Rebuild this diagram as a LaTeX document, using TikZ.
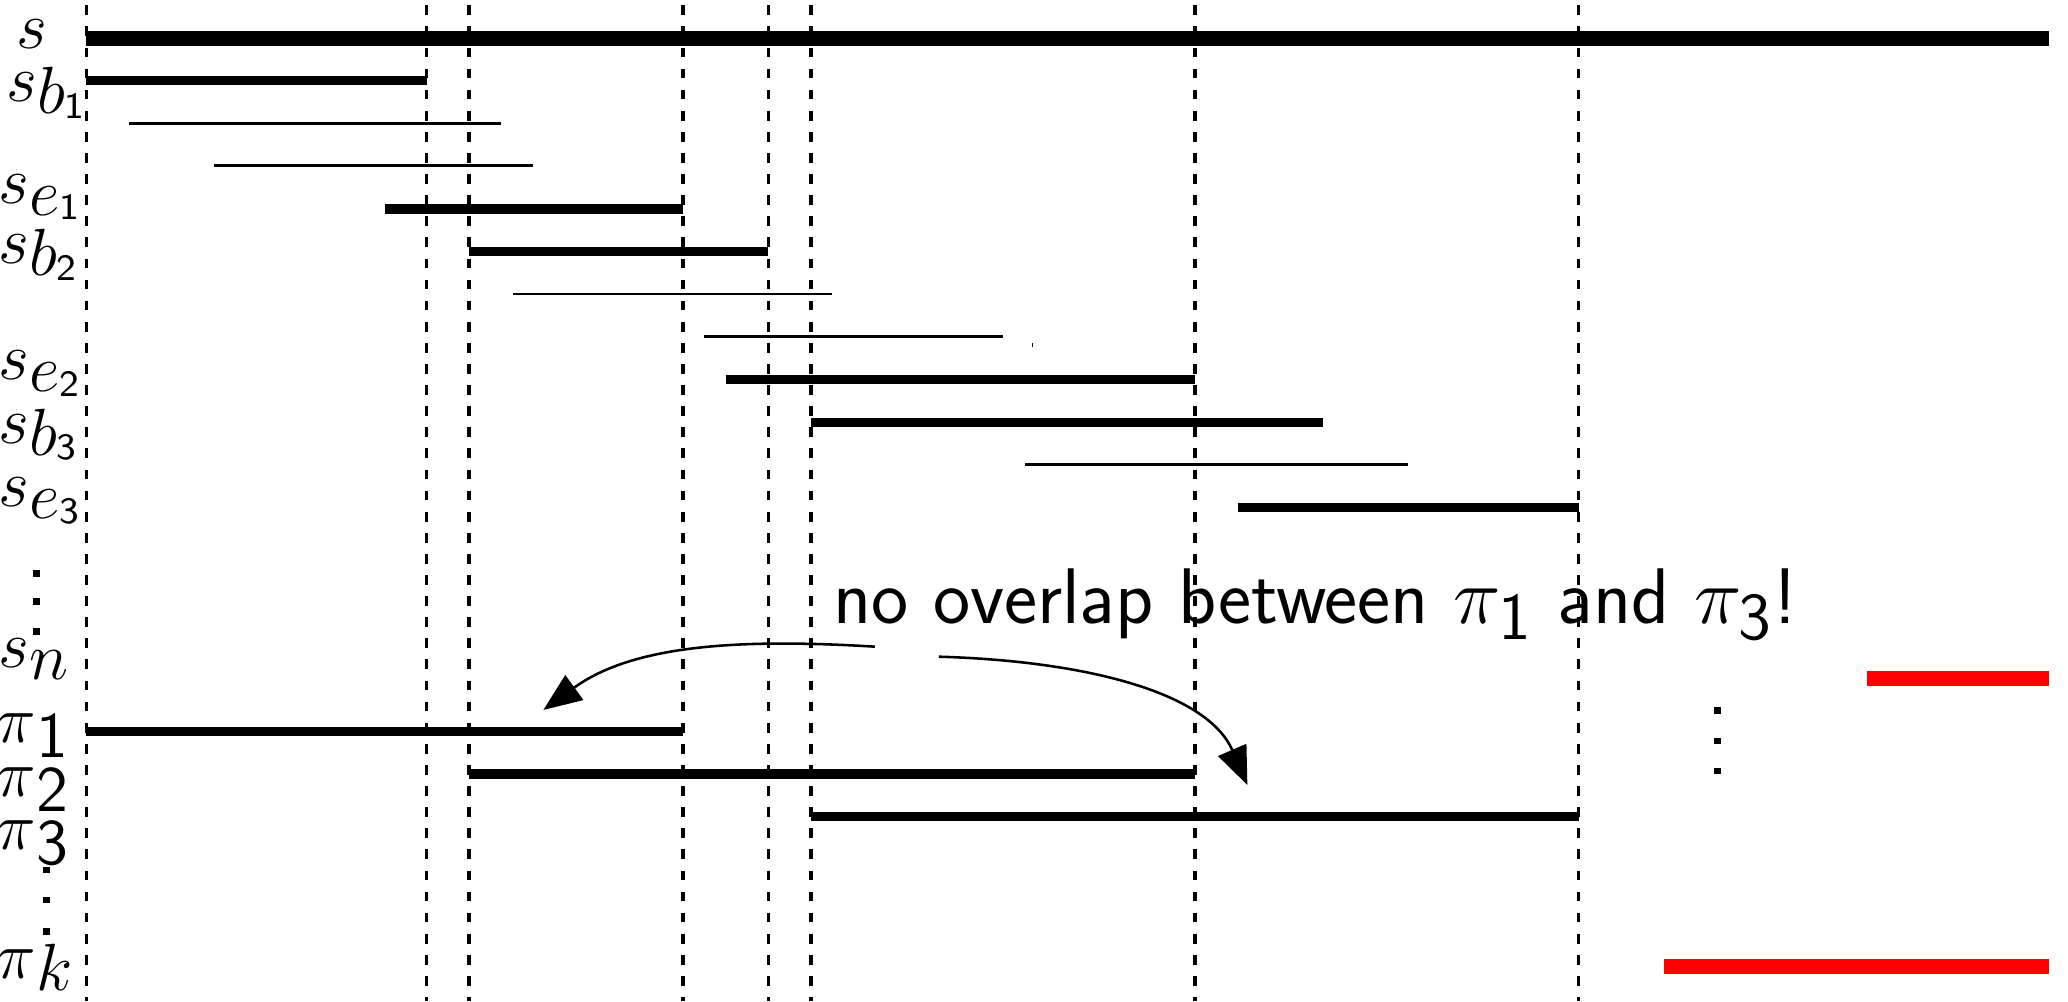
\documentclass[tikz,border=0pt]{standalone}
\usetikzlibrary{arrows.meta}
\DeclareMathSizes{17}{17}{15.6}{9}
\newcommand{\sfd}[1]{\mathsf{#1}}
% label with letter subscript and digit sub-subscript
\newcommand{\LabB}[3]{$#1$\raisebox{-2.6pt}{\fontsize{13.5}{14}\selectfont$#2$}\raisebox{-3.6pt}{\fontsize{8}{9}\selectfont\sffamily #3}}
% label with a single letter subscript
\newcommand{\LabL}[2]{$#1$\raisebox{-2.6pt}{\fontsize{13.5}{14}\selectfont$#2$}}
% label with a single digit subscript
\newcommand{\LabD}[2]{$#1$\raisebox{-3.2pt}{\fontsize{14}{15}\selectfont\sffamily #2}}
\tikzset{
  guide/.style={line width=0.75pt, dash pattern=on 2.1pt off 2.45pt},
  thickbar/.style={line width=3.25pt},
  midbar/.style={line width=2.05pt},
  thinbar/.style={line width=0.57pt},
  redbar/.style={line width=3.25pt, draw=red},
  lbl/.style={anchor=base west, inner sep=0pt, font=\fontsize{15}{18}\selectfont},
  note/.style={anchor=base west, inner sep=0pt, font=\fontsize{17}{20}\selectfont\sffamily},
  arr/.style={line width=0.55pt, -{Triangle[length=0.29cm,width=0.23cm]}},
  dotmark/.style={fill=black}
}
\begin{document}
\begin{tikzpicture}[x=0.01cm,y=-0.01cm]
\useasboundingbox (0,0) rectangle (1568,759);
% dashed guides
\foreach \xx in {65.5,323.5,355.7,517.8,582.6,615,906,1197}{
  \draw[guide] (\xx,4) -- (\xx,759);
}
% bars
\draw[thickbar] (65.5,29) -- (1553.5,29);
\draw[midbar] (65.5,61.2) -- (323.5,61.2);
\draw[thinbar] (97.8,93.8) -- (379.5,93.8);
\draw[thinbar] (161.9,125.6) -- (404.2,125.6);
\draw[midbar] (291.6,158.3) -- (517.8,158.3);
\draw[midbar] (355.7,190.8) -- (582.6,190.8);
\draw[thinbar] (388.8,222.9) -- (630.5,222.9);
\draw[thinbar] (533.8,255.3) -- (760.2,255.3);
\draw[line width=0.3pt] (783,260.2) -- (783,263);
\draw[midbar] (550.5,287.6) -- (906,287.6);
\draw[midbar] (615,320.2) -- (1003,320.2);
\draw[thinbar] (777.2,352) -- (1067.5,352);
\draw[midbar] (938.7,384.7) -- (1197,384.7);
\draw[midbar] (65.5,554.5) -- (517.8,554.5);
\draw[midbar] (355.7,586.9) -- (906,586.9);
\draw[midbar] (615,619.2) -- (1197,619.2);
\draw[redbar] (1415.6,514.3) -- (1553.6,514.3);
\draw[redbar] (1261.8,732.6) -- (1553.6,732.6);
% labels
\node[lbl] (ls)   at (12,37)   {$s$};
\node[lbl] (lsb1) at (4,77)    {\LabB{s}{b}{1}};
\node[lbl] (lse1) at (-2,154)  {\LabB{s}{e}{1}};
\node[lbl] (lsb2) at (-2,200)  {\LabB{s}{b}{2}};
\node[lbl] (lse2) at (-2,288)  {\LabB{s}{e}{2}};
\node[lbl] (lsb3) at (-2,336)  {\LabB{s}{b}{3}};
\node[lbl] (lse3) at (-2,384)  {\LabB{s}{e}{3}};
\node[lbl] (lsn)  at (-2,506)  {\LabL{s}{n}};
\node[lbl] (lp1)  at (-3,563)  {\LabD{\pi}{1}};
\node[lbl] (lp2)  at (-3,604)  {\LabD{\pi}{2}};
\node[lbl] (lp3)  at (-3,644)  {\LabD{\pi}{3}};
\node[lbl] (lpk)  at (-3,742)  {\LabL{\pi}{k}};
% vertical dots
\foreach \px/\py in {27.6/434.7,27.6/456.2,27.6/479,
                     35.5/659.6,35.5/682.4,35.5/706.4,
                     1302/539,1302/561.8,1302/584.6}{
  \fill[dotmark] (\px-2.6,\py-2.6) rectangle (\px+2.6,\py+2.6);
}
% note and arrows
\node[note] (txt) at (631,472.5) {no overlap between $\pi_{\sfd{1}}$ and $\pi_{\sfd{3}}$!};
\coordinate (a1s) at (663.4,490.3);
\coordinate (a1e) at (412,538.3);
\coordinate (a2s) at (711.8,497.9);
\coordinate (a2e) at (945.8,595.2);
\draw[arr] (a1s) .. controls (560,484) and (480,489) .. (a1e);
\draw[arr] (a2s) .. controls (820,501) and (915,524) .. (a2e);
\end{tikzpicture}
\end{document}
